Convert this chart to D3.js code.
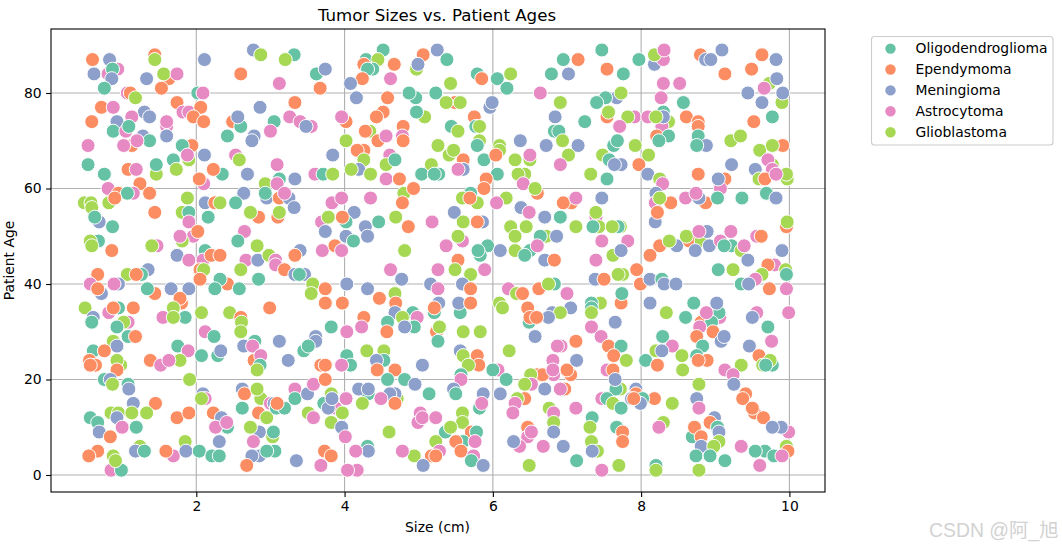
<!DOCTYPE html>
<html><head><meta charset="utf-8">
<script src="https://cdn.jsdelivr.net/npm/d3@7"></script>
<style>html,body{margin:0;padding:0;background:#fff}svg{display:block}text{font-family:"DejaVu Sans",sans-serif;fill:#000}</style>
</head><body><svg id="c" width="1062" height="547"></svg>
<script>
const tumorTypes=["Oligodendroglioma","Ependymoma","Meningioma","Astrocytoma","Glioblastoma"];
const typeColors=["#66c2a5","#fc8d62","#8da0cb","#e78ac3","#a6d854"];
const xTicks=[2,4,6,8,10];
const yTicks=[0,20,40,60,80];
// [type index, size (cm), patient age]
const patients=[
[1,.6,87],[2,.83,87],[1,1.44,88],[4,1.44,87],[2,2.11,87],[2,2.77,89],[4,2.87,88],[0,3.32,88],[4,3.2,87],[2,.62,84],[3,.94,85],[3,.81,84],[0,.87,85],[2,.86,83],[2,1.33,83],[1,1.63,83],[4,1.56,84],[3,1.74,84],[1,2.6,84],[0,3.62,84],[2,3.74,85],[3,3.12,82],[0,.76,81],[1,1.53,81],[1,3.67,81],[3,1.07,80],[1,1.11,80],[4,1.18,79],[0,2.02,80],[3,2.09,80],[1,1.74,78],[1,3.33,78],[1,.72,77],[3,.88,77],[2,2.86,77],[3,1.82,76],[3,1.9,76],[1,2.06,77],[1,1.96,75],[2,1.3,76],[3,1.13,75],[2,1.37,75],[1,.59,74],[2,.93,74],[1,2.1,74],[3,1.6,73],[3,1.6,74],[0,.88,72],[3,1.05,72],[0,1.09,73],[1,2.49,74],[0,2.6,73],[2,2.56,75],[0,2.42,71],[0,3.05,74],[3,3.26,75],[3,3.4,74],[3,3.55,73],[2,3.48,73],[3,3,72],[2,2.78,71],[2,2.75,70],[2,1.28,71],[0,1.37,70],[1,1.13,69],[3,1.02,69],[3,1.2,70],[2,1.6,71],[3,.54,69],[1,1.94,69],[0,1.81,69],[4,1.9,66],[3,1.88,67],[0,1.69,66],[4,1.73,64],[2,2.11,67],[3,2.53,67],[4,2.58,66],[0,.54,65],[0,.76,63],[1,1.08,64],[3,1.19,64],[4,1.46,63],[0,1.46,65],[3,3.09,65],[0,2.35,63],[1,2.23,64],[3,2.1,61],[1,2.04,62],[2,2.69,63],[0,3.12,62],[2,3.33,62],[4,2.93,61],[3,3.09,61],[3,3.6,63],[0,3.71,63],[4,3.84,63],[1,1.24,61],[3,.81,60],[1,.95,59],[1,1.37,59],[3,1.15,59],[0,1.07,59],[4,.82,57],[1,.9,58],[4,.49,57],[4,.58,57],[4,.59,56],[4,1.88,58],[2,2.64,59],[2,2.95,58],[0,2.93,59],[1,3.12,58],[2,3.25,58],[3,3.19,59],[2,2.12,57],[1,2.25,57],[4,2.32,57],[0,2.53,57],[2,3.32,56],[1,2.84,54],[4,2.73,55],[1,3.1,54],[4,3.12,55],[1,1.44,55],[4,1.81,55],[0,1.9,55],[2,.69,53],[0,.63,54],[0,.87,52],[0,2.16,54],[3,1.9,53],[3,1.96,50],[1,2.02,51],[4,1.81,49],[3,1.78,50],[3,2.65,51],[0,2.56,49],[3,3.69,53],[2,3.74,51],[0,.68,49],[4,.57,49],[4,.59,48],[3,1.47,48],[4,1.4,48],[1,.86,47],[4,2.82,48],[0,2.12,47],[2,1.74,46],[3,1.9,45],[3,2.09,45],[1,2.2,46],[1,2.32,46],[3,2.67,45],[2,2.83,45],[4,2.98,46],[3,3.07,45],[2,3.4,47],[1,3.33,46],[3,3.7,47],
[1,.67,42],[2,1.35,43],[4,1.07,42],[0,1.26,42],[1,1.19,42],[1,2.05,43],[4,2.1,43],[4,2.6,43],[0,2.84,41],[3,3.07,44],[1,3.19,43],[2,3.33,42],[2,3.46,42],[0,3.39,42],[3,.57,40],[2,.72,38],[1,.67,39],[2,.95,40],[3,.89,40],[1,1.44,38],[0,1.34,39],[2,1.66,39],[2,1.9,39],[1,2.05,41],[1,2.42,40],[0,2.32,41],[0,2.25,39],[0,2.58,39],[4,3.57,40],[4,3.55,38],[1,1.8,36],[1,1.78,37],[4,1.69,35],[1,2.99,35],[4,.5,35],[3,.82,34],[0,.95,35],[1,.88,35],[1,1.15,35],[2,.61,33],[0,.59,32],[3,1.55,33],[0,1.85,33],[4,1.69,33],[4,2.07,34],[4,2.45,34],[1,2.6,33],[4,2.61,32],[4,2.6,30],[3,1.08,32],[4,1.02,32],[0,.93,31],[3,2.12,30],[0,2.24,29],[0,1.08,29],[1,1.18,29],[4,.88,28],[2,.93,27],[0,.61,26],[1,.76,26],[0,1.75,27],[3,1.89,26],[2,3.12,28],[0,2.79,28],[2,2.64,27],[3,2.76,27],[1,1.38,24],[3,1.52,23],[4,1.78,24],[3,1.63,24],[0,2.29,25],[0,2.07,25],[2,2.33,26],[2,3.24,24],[1,2.78,24],[3,2.87,25],[0,2.86,23],[4,2.82,22],[1,.56,24],[1,.64,23],[1,.57,23],[4,.98,23],[4,.93,24],[1,.93,22],[2,3.61,29],[2,3.61,28],[0,3.45,26],[0,3.51,27],[1,3.68,23],[0,.76,20],[2,.84,20],[4,.87,19],[0,1.08,19],[2,1.09,18],[4,1.91,20],[2,2.09,17],[3,2.12,16],[4,2.07,16],[2,2.62,18],[1,2.65,17],[4,2.87,16],[4,2.82,18],[3,3.33,18],[0,3.33,16],[2,3.5,17],[3,3.58,19],[0,3.72,15],[2,1.15,15],[1,1.45,15],[4,.85,13],[4,.95,13],[4,1.13,13],[4,1.33,13],[2,.93,12],[0,.57,12],[0,.67,11],[2,.69,9],[3,1,10],[0,1.19,10],[1,.84,8],[1,1.74,12],[1,1.9,13],[0,2.62,14],[1,2.23,13],[2,2.34,12],[0,2.42,10],[3,2.26,10],[3,2.41,11],[1,2.84,13],[4,2.95,12],[2,2.85,9],[4,2.73,10],[3,3,15],[2,3.05,15],[0,3.08,14],[0,3.19,14],[1,3.09,15],[4,3.51,13],[3,3.58,12],[4,3.03,8],[0,3.04,9],[3,2.77,7],[2,2.31,7],[4,1.24,6],[4,1.85,7],[1,.67,5],[1,.55,4],[3,.85,1],[0,.99,1],[4,.88,4],[4,.91,3],[2,1.18,5],[0,1.3,5],[3,1.69,4],[1,1.59,5],[2,1.86,5],[0,2.04,5],[0,2.21,4],[0,2.31,4],[2,2.85,4],[2,2.75,4],[0,3.06,5],[0,2.95,5],[1,2.68,2],[2,3.35,3],[3,3.68,2],
[0,4.52,89],[0,4.29,87],[4,4.45,87],[1,4.26,86],[0,4.38,85],[0,4.31,85],[1,4.67,86],[3,4.62,83],[1,4.24,83],[2,4.08,82],[1,5.06,88],[2,5.25,89],[0,5.38,87],[4,4.97,85],[2,4.99,86],[0,5.79,84],[1,5.85,83],[0,6.06,83],[4,6.24,84],[0,6.19,81],[0,6.79,84],[2,7.02,84],[0,6.95,87],[1,7.15,87],[3,6.64,80],[4,5.43,82],[2,4.16,79],[0,4.96,79],[0,4.87,80],[0,5.23,80],[1,4.58,79],[1,5.49,78],[4,5.37,78],[4,5.56,78],[2,5.96,77],[2,5.99,78],[4,6.91,78],[2,6.84,75],[1,4.52,76],[1,4.43,75],[4,5.08,75],[0,4.97,76],[1,5.75,75],[1,4.02,74],[3,3.96,75],[0,5.44,73],[4,5.53,72],[0,5.77,73],[4,5.82,73],[4,4.34,72],[1,4.28,72],[1,4.79,73],[3,4.78,71],[1,4.79,70],[1,4.45,70],[3,4.56,71],[4,4.02,70],[0,6.83,72],[0,6.89,72],[4,6.94,70],[4,5.82,70],[0,5.79,69],[4,6.09,69],[2,6.37,70],[2,6.72,69],[2,7.15,69],[4,5.26,69],[4,5.41,67],[4,5.47,68],[1,5.6,66],[0,5.88,66],[4,6.09,68],[1,6.04,67],[4,6.3,66],[4,6.5,66],[3,6.5,67],[4,7.02,67],[3,6.91,65],[2,3.84,67],[1,4.26,68],[1,4.17,68],[4,4.26,66],[2,4.19,64],[4,4.09,64],[3,4.61,67],[4,4.56,65],[0,4.68,66],[4,4.35,63],[3,4.56,62],[1,4.74,62],[4,5.17,65],[0,5.04,63],[0,5.27,63],[0,5.21,63],[2,5.6,64],[3,5.53,64],[0,6.06,63],[1,5.91,62],[1,5.88,60],[4,6.43,63],[4,6.34,63],[3,6.41,61],[1,6.6,59],[4,6.57,60],[4,4.8,59],[1,4.93,60],[0,5.7,59],[4,5.59,58],[4,5.79,57],[1,5.69,58],[4,6.18,58],[3,6.05,57],[3,3.83,57],[3,3.96,58],[3,4.35,58],[1,4.78,57],[2,4.13,55],[2,6.38,56],[3,6.49,55],[1,7.06,57],[1,6.95,57],[3,7.12,58],[4,3.78,54],[0,4.02,53],[1,3.97,54],[0,4.46,53],[2,4.28,52],[2,4.31,50],[2,4.02,50],[0,4.12,49],[4,4.69,54],[1,4.86,52],[3,5.18,53],[2,5.48,55],[4,5.6,53],[2,5.86,53],[1,5.79,53],[2,6.7,54],[0,6.91,54],[4,6.24,52],[4,6.45,52],[4,6.3,50],[4,6.72,50],[0,6.64,50],[2,6.86,50],[4,7.12,52],[3,5.59,49],[4,5.53,50],[3,5.37,48],[0,5.93,48],[0,5.83,46],[0,5.8,47],[2,6.1,47],[4,6.3,47],[0,6.5,47],[3,6.6,48],[0,6.43,46],[4,4.81,47],[1,5.53,45],[2,6.7,45],[1,6.83,45],[1,3.87,48],[3,3.96,47],
[3,4.62,43],[2,4.77,41],[3,5.26,43],[4,5.49,43],[4,5.7,42],[3,5.89,43],[1,3.74,39],[1,3.74,36],[1,3.97,36],[2,4.03,40],[2,4.31,39],[1,4.47,37],[4,4.68,38],[1,4.69,36],[2,5.16,40],[3,5.26,39],[2,5.59,40],[1,5.7,39],[2,5.27,36],[0,5.21,34],[1,5.21,35],[0,5.56,34],[2,5.54,36],[1,5.7,36],[3,6.21,39],[4,6.32,38],[1,6.4,38],[1,6.62,39],[0,6.83,40],[4,6.75,40],[3,7,38],[4,6.09,36],[4,6.13,35],[1,6.47,35],[2,7.05,35],[2,6.8,34],[4,6.91,34],[1,4.26,33],[3,4.23,31],[0,3.82,31],[2,4.68,34],[0,4.92,34],[3,4.98,33],[4,4.78,33],[0,4.58,32],[0,4.94,31],[2,4.81,31],[1,4.57,30],[3,4.03,30],[1,5.24,30],[4,5.28,31],[0,5.26,28],[4,5.6,30],[4,5.83,30],[0,6.49,32],[1,6.5,33],[2,6.75,33],[1,6.59,33],[2,6.57,29],[3,6.92,27],[3,6.87,27],[1,7.12,28],[4,4.3,26],[4,4.53,26],[0,4.53,24],[2,4.43,24],[0,4.03,25],[0,4.08,23],[3,3.96,23],[1,3.74,23],[1,4.44,22],[1,4.68,22],[0,4.58,20],[0,4.81,20],[2,4.95,19],[2,5.05,23],[2,5.56,26],[4,5.6,25],[1,5.79,25],[1,5.81,23],[4,5.67,23],[0,5.57,21],[3,5.57,20],[4,6.22,26],[3,6.07,22],[0,6,22],[0,6.18,20],[3,6.82,21],[3,6.81,24],[1,7.05,21],[1,6.6,21],[1,6.67,21],[3,6.81,22],[1,7,22],[2,7.13,24],[4,6.51,21],[3,6.52,19],[4,6.43,19],[2,6.7,18],[1,6.97,18],[3,6.91,18],[1,3.74,20],[0,4.32,17],[2,4.19,18],[2,4.32,18],[2,5.47,18],[0,5.5,17],[2,6.1,17],[2,5.87,17],[0,5.82,14],[3,5.85,15],[0,5.14,17],[4,4.71,16],[2,4.68,17],[2,4.61,17],[3,4.49,16],[1,4.68,15],[4,4.24,15],[4,3.82,17],[3,3.88,14],[3,4.02,16],[2,3.78,14],[2,3.83,16],[4,3.97,13],[4,3.82,11],[2,3.96,10],[3,4.01,8],[1,6.43,16],[4,6.33,16],[3,6.3,15],[3,6.27,13],[4,6.76,14],[3,6.82,13],[4,6.82,11],[2,6.82,9],[3,7.12,14],[3,5.02,13],[3,4.99,11],[3,5.05,12],[3,5.23,12],[4,5.59,13],[4,5.59,11],[0,5.36,9],[4,5.43,10],[1,5.71,9],[0,5.78,9],[0,5.6,7],[1,5.5,7],[3,5.76,7],[4,4.6,9],[4,5.23,7],[3,5.28,5],[1,5.17,4],[1,5.23,4],[1,5.57,5],[3,5.74,4],[0,5.71,3],[2,5.87,2],[4,4.94,4],[2,5.06,2],[3,4.78,5],[0,4.31,6],[2,4.32,5],[3,4.15,5],[1,3.73,5],[1,3.82,4],[3,4.17,1],[3,4.04,1],[1,6.47,10],[3,6.47,8],[3,6.52,9],[3,6.36,6],[2,6.28,7],[3,6.68,6],[2,6.95,6],[0,7.13,3],[4,6.49,2],
[0,7.47,89],[1,7.54,85],[0,7.76,84],[0,7.97,87],[2,8.18,86],[3,8.3,87],[4,8.18,88],[3,8.31,89],[1,8.8,88],[2,8.87,87],[2,9.09,89],[2,8.94,87],[1,9.13,84],[1,9.49,85],[1,9.63,88],[2,9.82,87],[3,8.3,82],[3,8.52,82],[4,9.73,82],[2,9.83,83],[3,9.66,81],[2,9.44,80],[4,9.9,78],[2,9.91,80],[2,9.63,78],[2,7.67,79],[0,7.52,79],[4,7.73,80],[0,7.4,78],[3,8.27,79],[0,8.57,78],[0,7.24,74],[1,7.54,75],[4,7.56,76],[3,7.91,75],[4,7.82,75],[3,7.71,73],[3,8.09,75],[0,8.3,76],[4,8.37,74],[3,8.28,73],[2,8.3,75],[4,8.2,75],[1,8.61,75],[1,8.77,74],[1,8.77,73],[0,8.77,71],[2,8.88,69],[0,8.75,69],[1,9.52,74],[0,9.77,75],[1,8.21,71],[0,8.37,71],[0,8.24,70],[4,9.21,70],[4,9.34,71],[0,7.63,69],[0,7.68,70],[4,7.92,69],[4,8.1,67],[4,7.48,67],[0,7.57,66],[2,7.73,65],[2,7.64,65],[1,7.97,65],[1,8.77,63],[2,8.09,63],[4,8.25,62],[3,8.29,61],[4,7.32,63],[0,7.54,62],[4,9.6,68],[1,9.91,69],[4,9.77,69],[4,9.77,65],[3,9.71,66],[3,9.77,64],[2,9.54,64],[2,9.22,65],[4,9.59,62],[4,9.97,62],[4,9.96,63],[1,9.67,62],[3,9.82,63],[1,9.13,62],[3,9.07,60],[2,9.04,62],[0,9.69,59],[2,9.82,58],[2,7.47,58],[2,8.2,59],[3,8.19,57],[1,8.4,57],[4,8.25,58],[3,8.6,58],[1,8.87,57],[0,9.03,58],[2,8.78,58],[3,8.74,59],[0,9.36,58],[2,8.19,53],[1,8.22,55],[3,7.39,54],[4,7.39,55],[4,7.12,52],[4,7.43,52],[0,7.35,52],[4,7.72,52],[0,7.69,52],[4,7.61,52],[1,9.96,52],[4,9.97,53],[3,7.47,49],[3,7.82,49],[2,8.48,48],[1,8.25,48],[4,8.38,49],[1,8.65,49],[4,8.61,50],[4,8.81,49],[2,8.89,51],[3,8.78,51],[2,8.73,47],[2,8.92,48],[3,9.21,51],[3,9.07,49],[0,9.22,48],[0,9.12,48],[4,9.35,47],[3,9.39,48],[2,9.44,45],[3,9.56,50],[1,9.62,50],[2,9.9,47],[4,7.62,46],[2,7.73,47],[3,7.39,45],[1,8.12,46],
[0,9.04,43],[4,9.24,43],[3,9.8,44],[1,9.71,44],[4,9.95,43],[0,9.96,42],[4,9.63,42],[3,9.54,41],[0,9.35,40],[2,9.45,40],[1,9.73,39],[3,9.96,39],[3,9.99,34],[1,7.94,43],[4,7.75,42],[4,7.69,42],[1,7.99,40],[2,8.12,41],[0,8.28,41],[2,8.31,40],[2,8.47,40],[2,7.38,41],[1,7.5,41],[1,7.73,36],[0,7.74,38],[2,8.12,36],[4,7.45,36],[0,7.33,36],[0,7.33,35],[4,7.33,34],[2,7.65,32],[3,7.33,31],[3,7.46,29],[1,7.56,27],[0,7.73,27],[1,7.63,25],[4,7.8,24],[3,7.54,22],[1,7.62,22],[4,7.72,18],[0,7.66,18],[2,7.65,20],[4,8.34,34],[0,8.6,33],[0,8.71,36],[3,9.06,33],[0,9.05,34],[2,9.02,36],[1,8.81,32],[0,8.95,32],[3,8.88,34],[1,8.97,30],[3,8.79,31],[1,8.75,29],[2,9.08,28],[2,9.12,29],[0,8.83,27],[3,9.56,34],[2,9.5,33],[0,9.71,31],[3,9.76,28],[2,9.46,27],[1,9.59,25],[0,8.29,29],[3,8.42,27],[4,8.2,26],[2,8.28,26],[4,8.55,25],[0,8.06,24],[1,8.22,23],[4,8.56,22],[0,8.75,25],[1,8.89,24],[1,8.77,24],[4,9.35,23],[3,9.13,22],[3,9.24,21],[2,9.25,19],[4,8.78,19],[4,9.64,23],[0,9.77,23],[4,9.74,24],[0,9.68,23],[1,9.41,17],[1,9.37,16],[1,9.53,13],[1,9.5,14],[1,9.65,12],[3,9.99,9],[2,9.89,10],[2,9.77,10],[2,8.75,16],[3,8.78,14],[1,8.18,16],[4,8.42,15],[3,7.47,16],[0,7.54,16],[4,7.62,15],[0,7.73,14],[2,7.93,18],[1,7.93,17],[0,8.02,16],[2,7.87,16],[2,7.99,15],[1,7.9,16],[0,7.34,12],[4,7.31,10],[0,7.67,10],[1,7.75,9],[1,7.75,7],[4,8.3,11],[3,8.24,10],[0,8.69,8],[1,8.72,10],[1,8.81,8],[2,8.99,12],[1,8.93,11],[0,9.03,10],[2,9.05,9],[4,9.05,7],[2,8.81,6],[4,8.98,6],[0,8.74,4],[0,8.93,4],[0,9.13,3],[3,9.35,6],[0,9.67,5],[0,9.54,5],[0,9.79,4],[4,9.96,6],[1,9.98,5],[3,9.9,4],[3,9.6,2],[4,7.33,7],[4,7.41,5],[2,7.34,5],[3,7.47,1],[4,7.7,2],[0,8.2,2],[4,8.2,1],[4,8.78,1]
];
const svg=d3.select("#c");
const L=51,R=825,T=29,B=492;
const x=d3.scaleLinear().domain([2,10]).range([196.3,789.4]);
const y=d3.scaleLinear().domain([0,80]).range([475,93]);
const gridCol="#b0b0b0";
svg.append("g").selectAll("line").data(xTicks).join("line").attr("x1",d=>x(d)).attr("x2",d=>x(d)).attr("y1",T).attr("y2",B).attr("stroke",gridCol).attr("stroke-width",1.1);
svg.append("g").selectAll("line").data(yTicks).join("line").attr("x1",L).attr("x2",R).attr("y1",d=>y(d)).attr("y2",d=>y(d)).attr("stroke",gridCol).attr("stroke-width",1.1);
svg.append("g").selectAll("circle").data(patients).join("circle")
 .attr("cx",d=>x(d[1])).attr("cy",d=>y(d[2])).attr("r",7)
 .attr("fill",d=>typeColors[d[0]]).attr("stroke","#fff").attr("stroke-width",1);
svg.append("rect").attr("x",L).attr("y",T).attr("width",R-L).attr("height",B-T).attr("fill","none").attr("stroke","#000").attr("stroke-width",1.1);
const ax=svg.append("g").attr("transform",`translate(0,${B})`).call(d3.axisBottom(x).tickValues(xTicks).tickSize(4.9).tickPadding(4.5).tickFormat(d3.format("d")));
const ay=svg.append("g").attr("transform",`translate(${L},0)`).call(d3.axisLeft(y).tickValues(yTicks).tickSize(4.9).tickPadding(4.5).tickFormat(d3.format("d")));
[ax,ay].forEach(g=>{g.select(".domain").remove();g.selectAll("line").attr("stroke","#000").attr("stroke-width",1.1);g.selectAll("text").attr("font-size",13.9).attr("font-family",'"DejaVu Sans"').attr("fill","#000");});
svg.append("text").attr("x",437).attr("y",21).attr("text-anchor","middle").attr("font-size",16.67).text("Tumor Sizes vs. Patient Ages");
svg.append("text").attr("x",437.5).attr("y",532).attr("text-anchor","middle").attr("font-size",13.9).text("Size (cm)");
svg.append("text").attr("transform","translate(14,260.5) rotate(-90)").attr("text-anchor","middle").attr("font-size",13.9).text("Patient Age");
svg.append("rect").attr("x",871.5).attr("y",36.5).attr("width",181.5).attr("height",108.5).attr("rx",3).attr("fill","#fff").attr("stroke","#ccc").attr("stroke-width",1.1);
const lg=svg.append("g").selectAll("g").data(tumorTypes).join("g").attr("transform",(d,i)=>`translate(0,${48.6+i*20.9})`);
lg.append("circle").attr("cx",890.5).attr("r",5.2).attr("fill",(d,i)=>typeColors[i]);
lg.append("text").attr("x",915.5).attr("y",4.4).attr("font-size",13.9).text(d=>d);
svg.append("text").attr("x",929).attr("y",536.5).attr("font-size",19.4).style("font-family",'"Liberation Sans","Noto Sans CJK SC",sans-serif').style("fill","#d2d2d2").text("CSDN @阿_旭");
</script></body></html>
